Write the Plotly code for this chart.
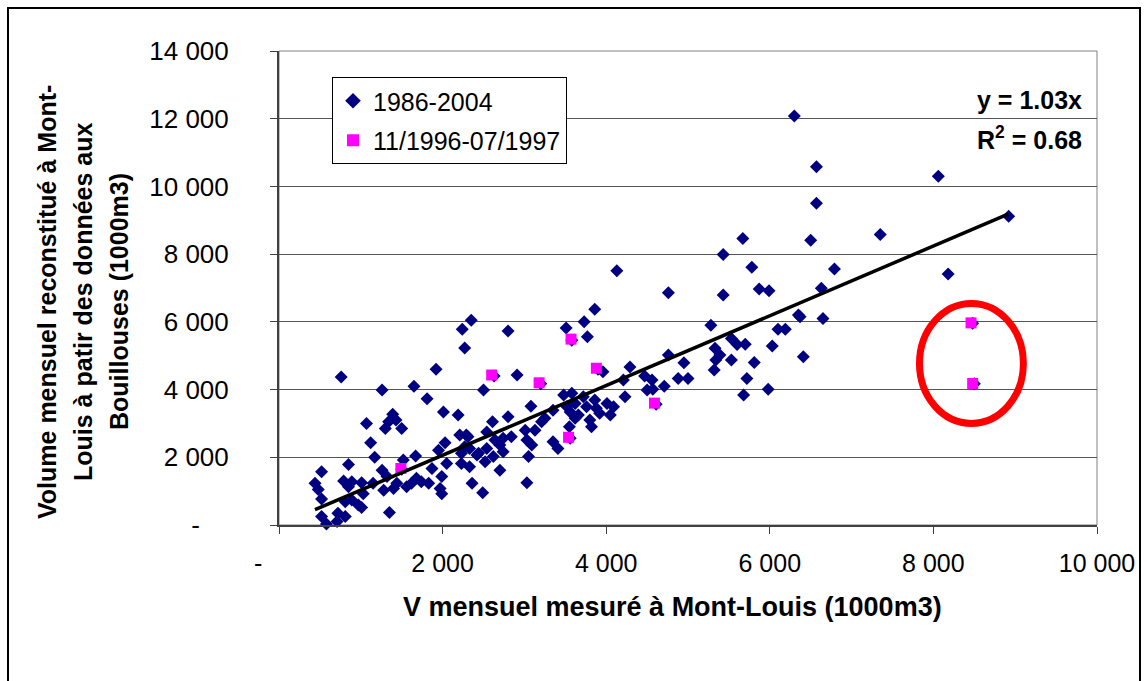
import plotly.graph_objects as go

# ---- data ----
blue_x = [1070,1300,1430,1390,1340,1500,1120,1170,850,520,440,480,520,790,890,1010,850,1030,810,890,970,1010,720,810,710,580,520,1350,1150,1260,1320,1280,1400,1440,1520,1670,1560,1620,1680,1740,1830,1870,1950,2030,1990,1970,1990,2050,2210,2290,2230,2330,2230,2330,2360,2490,2440,2540,2240,2270,760,1260,1650,1920,1810,2010,2190,2800,3770,2910,3960,2500,4290,4760,4950,4880,5000,4470,4560,4500,4570,4710,4210,4230,3480,3580,3520,3620,3720,3760,3660,3860,3880,4010,4090,4050,3920,3800,3820,3560,3620,3080,3350,3250,3210,3130,3010,3550,3350,3410,2800,2610,2540,2740,2840,2700,2640,2740,2620,2520,2420,2310,2270,3030,3090,3050,2700,3030,2350,4130,3510,3730,3860,6570,5670,6500,5430,5780,6790,4760,5430,5870,5990,6630,6350,6370,6650,5280,6100,6190,5530,5600,5700,6030,5330,5390,5340,5530,5320,5810,6410,5720,5680,5980,6300,6570,8060,7350,8920,8180,8480,8500,2630,3200,3580,3900,3560,4610,1500]
blue_y = [3000,2850,3100,3270,3050,2850,2430,2000,1790,1570,1230,1050,770,1300,1280,1250,1130,920,690,740,590,520,350,250,100,30,250,370,1230,1620,1430,1030,1080,1230,1920,2040,1130,1230,1380,1280,1230,1670,2210,2430,1430,1080,920,1820,2660,2660,2120,2260,1820,1720,1230,950,2120,2260,5780,5230,4370,3990,4100,4600,3730,3340,3250,5730,5560,4430,4530,3990,4670,5020,4790,4330,4330,4400,4280,3990,4010,4100,4280,3790,3840,3890,3490,3590,3790,3490,3250,3690,3450,3590,3490,3250,3300,3100,2900,3340,3150,3510,3390,3150,3050,2800,2800,2900,2460,2260,3200,3050,2750,2560,2610,2360,2510,2160,2020,1870,2070,2610,2310,2510,2360,2020,1620,1250,6050,7510,5820,6000,6370,9500,8460,8410,7990,7610,7560,6860,6790,6970,6920,6990,6200,6150,6100,5900,5780,5780,5510,5330,5340,5290,5220,5020,4870,4870,4580,4800,4970,4330,3840,4010,12080,10580,10300,8580,9120,7410,5960,4170,4400,4170,5460,4600,2560,3570,1650]

pink_x = [1490,2600,3180,3570,3880,3540,4590,8460,8480]
pink_y = [1670,4430,4200,5490,4630,2590,3600,5970,4180]

SLOPE = 1.03
R2 = 0.68
series_names = ["1986-2004", "11/1996-07/1997"]
x_ticks = [0, 2000, 4000, 6000, 8000, 10000]
x_ticktext = ["-" + "\u00a0" * 6, "2 000", "4 000", "6 000", "8 000", "10 000"]
y_ticks = [0, 2000, 4000, 6000, 8000, 10000, 12000, 14000]
y_ticktext = ["-" + "\u00a0" * 4, "2 000", "4 000", "6 000", "8 000", "10 000", "12 000", "14 000"]
x_title = "V mensuel mesuré à Mont-Louis (1000m3)"
y_title_lines = ["Volume mensuel reconstitué à Mont-",
                 "Louis à patir des données aux",
                 "Bouillouses (1000m3)"]

FONT = "Liberation Sans, Arial, sans-serif"

fig = go.Figure()
fig.add_trace(go.Scatter(
    x=blue_x, y=blue_y, mode="markers", name=series_names[0],
    legendgroup="a",
    marker=dict(symbol="diamond", size=10, color="#000080", line=dict(width=0)),
    cliponaxis=False))
fig.add_trace(go.Scatter(
    x=pink_x, y=pink_y, mode="markers", name=series_names[1],
    legendgroup="b",
    marker=dict(symbol="square", size=11, color="#FF00FF", line=dict(width=0)),
    cliponaxis=False))
xmin, xmax = min(blue_x), max(blue_x)
fig.add_trace(go.Scatter(
    x=[xmin, xmax], y=[SLOPE * xmin, SLOPE * xmax], mode="lines",
    line=dict(color="black", width=3.5), showlegend=False, hoverinfo="skip"))

L, R, T, B = 279, 50, 51, 156
W, H = 1147, 681
pw, ph = W - L - R, H - T - B

def px(xp):
    return (xp - L) / pw

def py(yp):
    return (H - B - yp) / ph

annotations = []
for xp, line in zip([47, 83, 119], y_title_lines):
    annotations.append(dict(x=px(xp), y=py(302), xref="paper", yref="paper",
                            text=line, textangle=-90, showarrow=False,
                            xanchor="center", yanchor="middle",
                            font=dict(family=FONT, size=25, color="black", weight="bold")))
annotations.append(dict(x=px(672), y=py(607), xref="paper", yref="paper",
                        text="<b>" + x_title + "</b>", showarrow=False,
                        xanchor="center", yanchor="middle",
                        font=dict(family=FONT, size=27, color="black")))
annotations.append(dict(x=px(1084), y=py(100), xref="paper", yref="paper",
                        text="<b>y = %.2fx</b>" % SLOPE, showarrow=False,
                        xanchor="right", yanchor="middle",
                        font=dict(family=FONT, size=25, color="black")))
annotations.append(dict(x=px(1084), y=py(138), xref="paper", yref="paper",
                        text="<b>R<sup>2</sup> = %.2f</b>" % R2, showarrow=False,
                        xanchor="right", yanchor="middle",
                        font=dict(family=FONT, size=25, color="black")))

shapes = [
    dict(type="rect", xref="paper", yref="paper", x0=0, x1=1, y0=0, y1=1,
         line=dict(color="#808080", width=1), layer="below"),
    dict(type="rect", xref="paper", yref="paper", x0=px(8), x1=px(1140),
         y0=py(690), y1=py(8), line=dict(color="black", width=2)),
    dict(type="circle", xref="x", yref="y", x0=7830, x1=9100, y0=3000, y1=6545,
         line=dict(color="#FF0000", width=7)),
]

fig.update_layout(
    width=W, height=H,
    margin=dict(l=L, r=R, t=T, b=B),
    paper_bgcolor="white", plot_bgcolor="white",
    font=dict(family=FONT, size=24, color="black"),
    showlegend=True,
    legend=dict(x=px(332), y=py(77), xanchor="left", yanchor="top",
                bgcolor="white", bordercolor="black", borderwidth=1,
                font=dict(family=FONT, size=25, color="black"),
                tracegroupgap=4, itemsizing="constant"),
    annotations=annotations,
    shapes=shapes,
    xaxis=dict(range=[0, 10000], tickvals=x_ticks, ticktext=x_ticktext,
               showgrid=False, zeroline=False, showline=True, linecolor="#404040",
               linewidth=2, ticks="outside", ticklen=7, tickcolor="#404040",
               ticklabelstandoff=8, tickfont=dict(family=FONT, size=25)),
    yaxis=dict(range=[0, 14000], tickvals=y_ticks, ticktext=y_ticktext,
               showgrid=True, gridcolor="#555555", gridwidth=1, zeroline=False,
               showline=True, linecolor="#404040", linewidth=2, ticks="outside",
               ticklen=7, tickcolor="#404040", ticklabelstandoff=36,
               tickfont=dict(family=FONT, size=26)),
)

fig.write_html("out.html")
